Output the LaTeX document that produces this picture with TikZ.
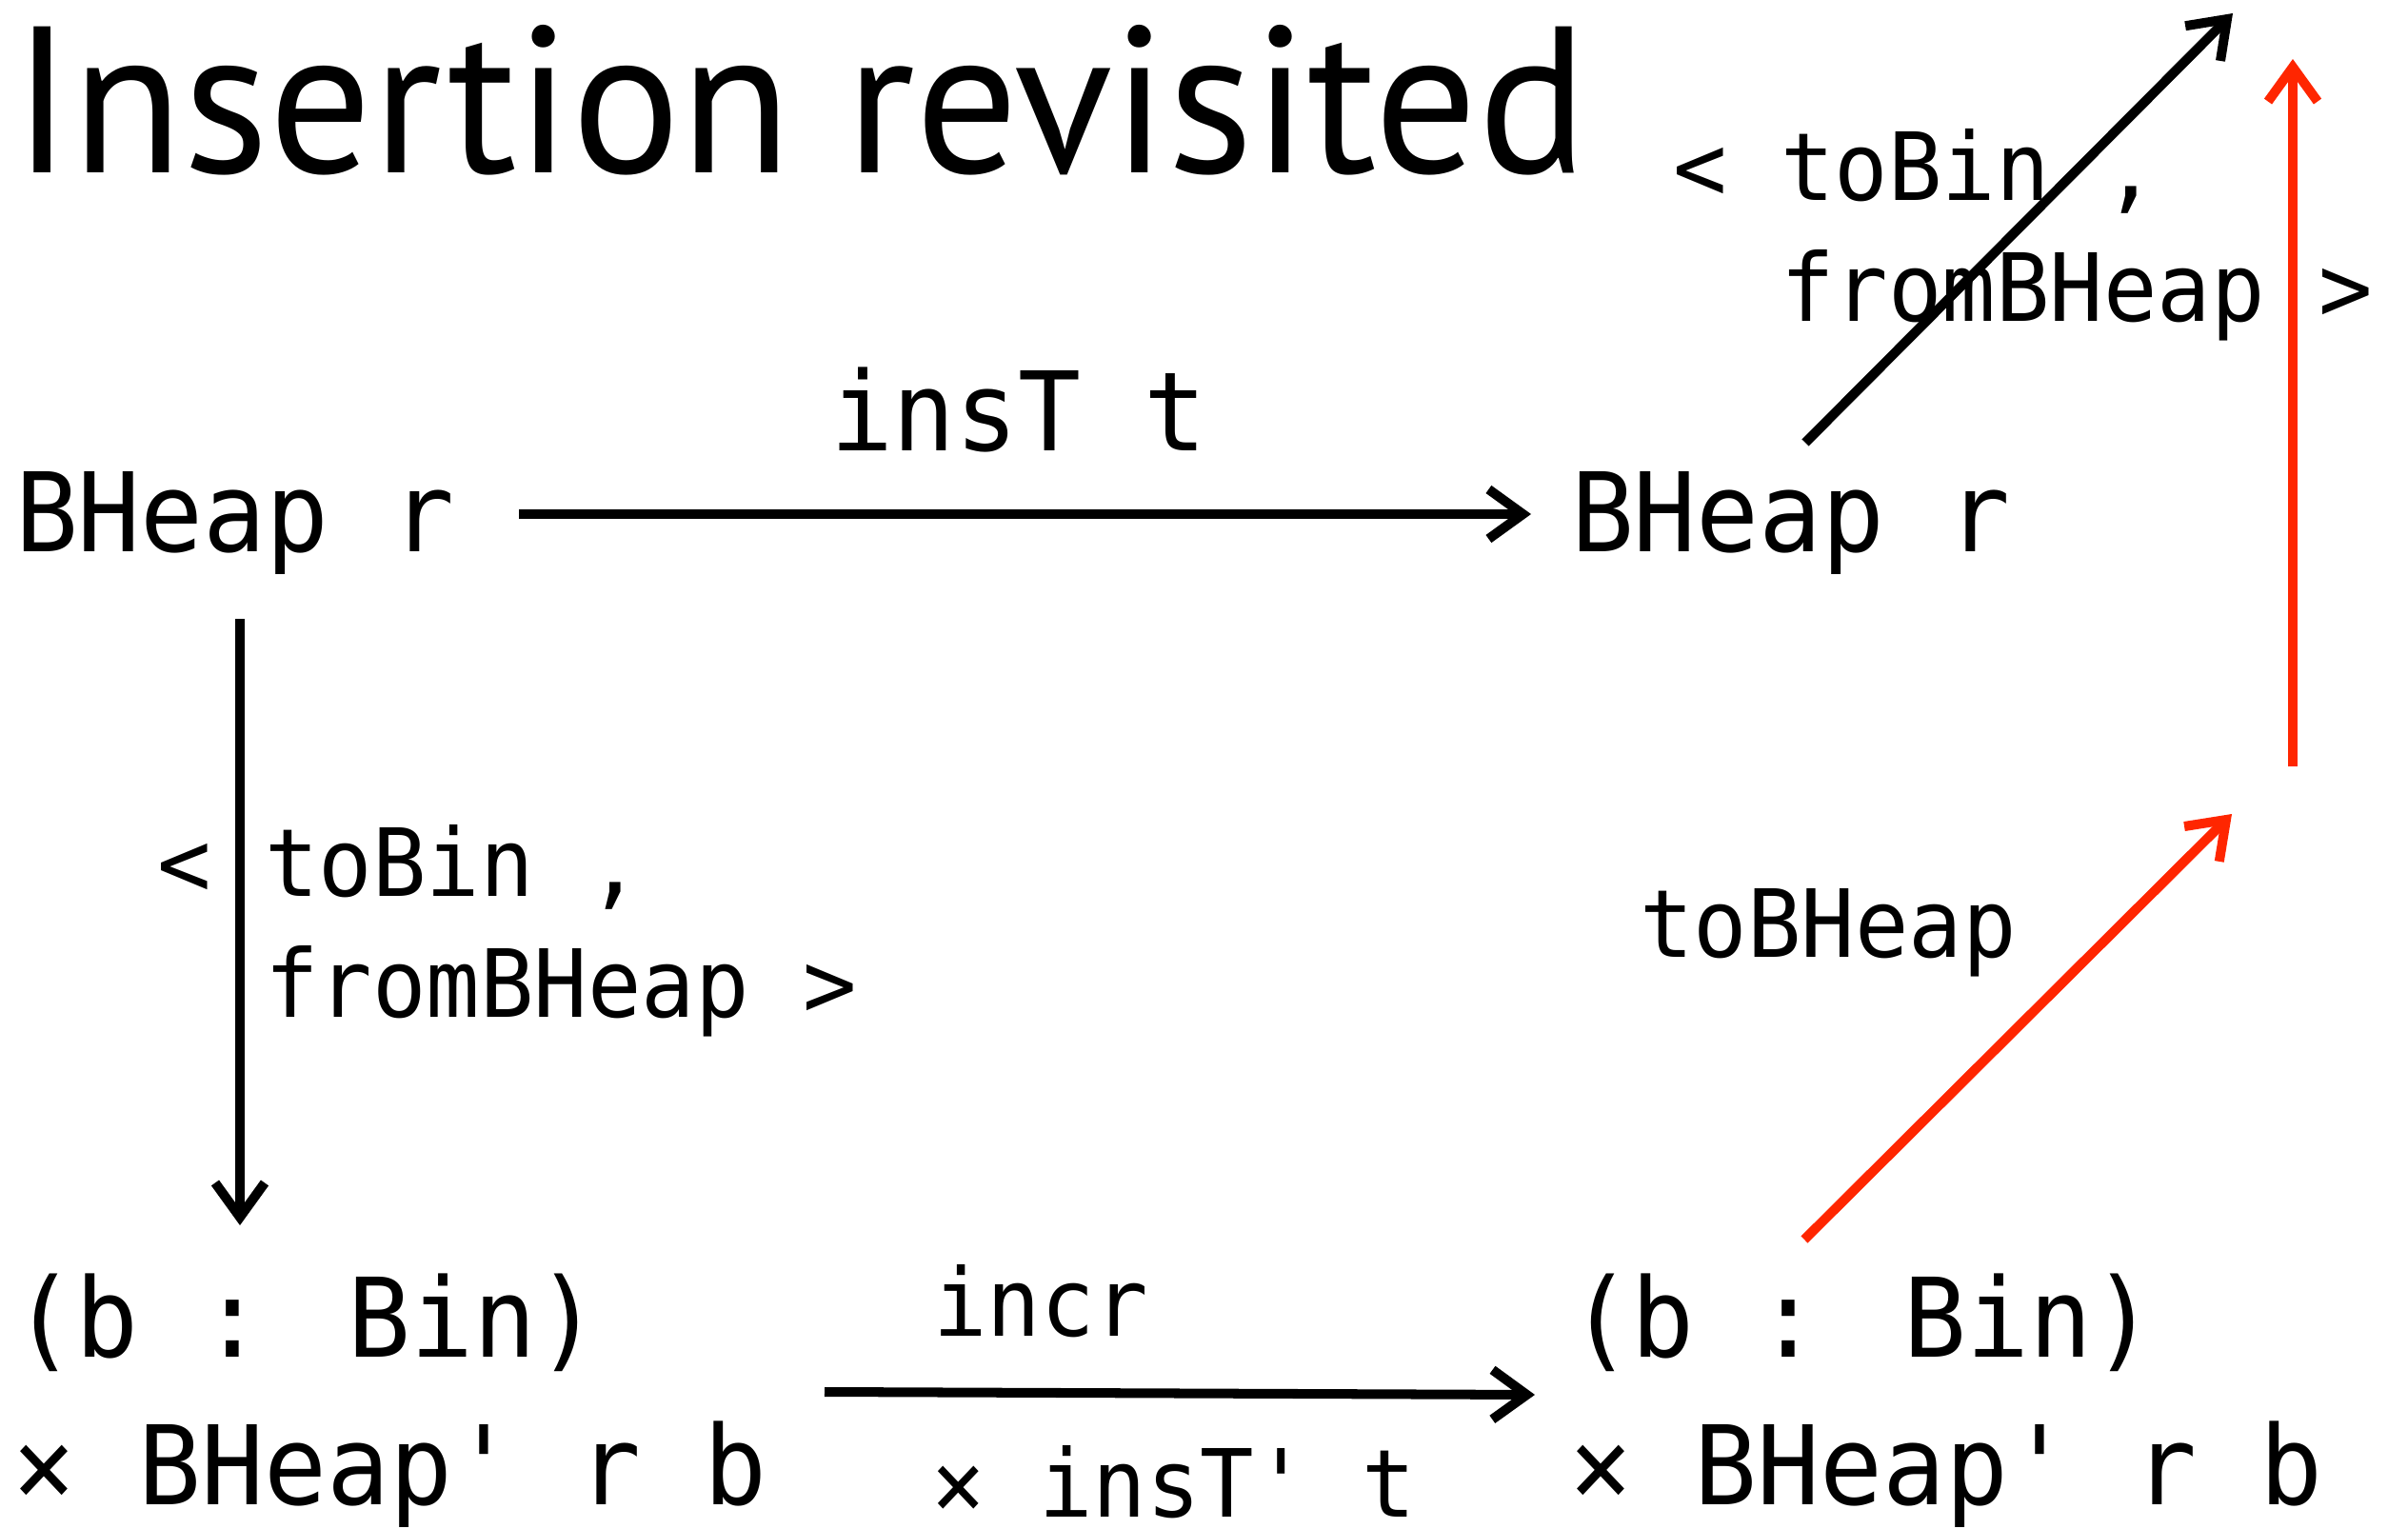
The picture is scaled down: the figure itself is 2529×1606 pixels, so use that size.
\documentclass[tikz,border=0pt]{standalone}
\usepackage{fontspec}
\usepackage{graphicx}
\usetikzlibrary{arrows.meta}
\setmainfont{PT Sans}
\newfontfamily\titlefont{PT Sans}
\newfontfamily\codefont[FakeStretch=0.95,Ligatures=TeXOff]{DejaVu Sans Mono}
\definecolor{keyred}{RGB}{255,38,0}
\newcommand\bigcode{\codefont\fontsize{32.8}{43.8}\selectfont}
\newcommand\smallcode{\codefont\fontsize{28.1}{36.1}\selectfont}

\begin{document}
\begin{tikzpicture}[x=0.01cm,y=-0.01cm,
  every node/.style={inner sep=0pt,outer sep=0pt,anchor=base west},
  term/.style={font=\bigcode,align=left},
  lbl/.style={font=\smallcode,align=left},
  morph/.style={line width=2.85pt,-{Straight Barb[length=3.6mm,width=5.2mm]}},
  hilite/.style={morph,draw=keyred}]
\useasboundingbox[fill=white] (0,0) rectangle (2529,1606);

% heading
\node[font=\titlefont] (title) at (13,182) {\resizebox{16.53cm}{1.55cm}{Insertion revisited}};

% objects of the square (multi-line nodes sit on their last baseline)
\node[term] (src)   at (16,579)   {BHeap r};
\node[term] (tgt)   at (1650,579) {BHeap r};
\node[term,text depth=0pt] (pairL) at (14,1580)  {(b : Bin)\\× BHeap' r b};
\node[term,text depth=0pt] (pairR) at (1648,1580){(b : Bin)\\× BHeap' r b};

% morphism labels
\node[term] (ins)   at (872,473)  {insT t};
\node[lbl]  (convL) at (165,1068) {< toBin ,\\\phantom{< }fromBHeap >};
\node[lbl]  (convR) at (1757,337) {< toBin ,\\\phantom{< }fromBHeap >};
\node[lbl]  (incr)  at (980,1403) {incr};
\node[lbl,text depth=0pt] (insP) at (978,1593) {× insT' t};
\node[lbl]  (tobh)  at (1722,1005){toBHeap};

% arrow end points
\coordinate (topS) at (545,540);   \coordinate (topE) at (1608,540);
\coordinate (leftS) at (252,650);  \coordinate (leftE) at (252,1287);
\coordinate (botS) at (866,1462);  \coordinate (botE) at (1612,1465);
\coordinate (diagS) at (1896,465); \coordinate (diagE) at (2345,14);
\coordinate (redS) at (1895,1302); \coordinate (redE) at (2344,855);
\coordinate (upS) at (2408,805);   \coordinate (upE) at (2408,62);

\draw[morph] (topS) -- (topE);
\draw[morph] (leftS) -- (leftE);
\draw[morph] (botS) -- (botE);
\draw[morph] (diagS) -- (diagE);
\draw[hilite] (redS) -- (redE);
\draw[hilite] (upS) -- (upE);
\end{tikzpicture}
\end{document}
